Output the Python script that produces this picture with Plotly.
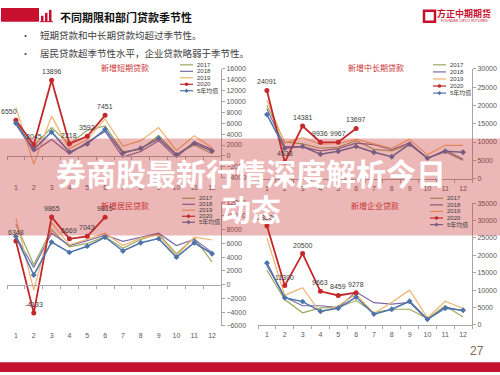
import plotly.graph_objects as go

W, H = 500, 375
def px(x): return x / W
def py(y): return 1 - y / H

# ---------------- data ----------------
months = list(range(1, 13))
month_labels = [str(m) for m in months]
series_names = ["2017", "2018", "2019", "2020", "5年均值"]

short_2017 = [6300, 1900, 5200, 2200, 4700, 5500, 800, 1200, 3800, 300, 2000, 400]
short_2018 = [5800, 800, 3000, 400, 2500, 4500, -200, 800, 2800, -300, 2600, 1200]
short_2019 = [8900, -1500, 7300, 1300, 3000, 6800, 1800, 2800, 5200, 1000, 3700, 1500]
short_2020 = [6550, 2045, 13896, 2218, 3592, 7451]
short_avg = [6000, 1200, 4400, 700, 2200, 4900, 500, 1400, 3200, 200, 2300, 900]

ml_2017 = [20000, 10000, 9500, 8300, 8600, 10400, 8000, 7600, 9400, 5700, 7300, 5000]
ml_2018 = [19000, 8800, 8700, 7600, 8200, 9700, 9300, 7900, 9800, 5500, 7800, 5300]
ml_2019 = [21500, 9700, 11200, 9400, 9600, 10800, 9500, 8300, 10800, 6500, 9100, 9100]
ml_2020 = [24091, 4538, 14381, 9936, 9967, 13697]
ml_avg = [17500, 8300, 8800, 6700, 7500, 8800, 7200, 6000, 9400, 5600, 7500, 7200]

hh_2017 = [8800, 2900, 8000, 5500, 6000, 7000, 5300, 6600, 7400, 4500, 6800, 3300]
hh_2018 = [7000, 2500, 7500, 5700, 6400, 7200, 6300, 6900, 7500, 5700, 6600, 4700]
hh_2019 = [9700, -800, 9000, 5800, 6600, 7500, 5700, 6800, 7200, 4200, 6900, 6500]
hh_2020 = [6348, -4133, 9865, 6669, 7043, 9815]
hh_avg = [7000, 1400, 6200, 4700, 5600, 6900, 4900, 6100, 6700, 4000, 6100, 4500]

co_2017 = [15700, 7300, 3500, 4900, 5000, 7000, 3500, 4500, 4500, 1800, 5500, 2300]
co_2018 = [17000, 8000, 5500, 5500, 5000, 9500, 6400, 6000, 6500, 1500, 5200, 4000]
co_2019 = [25000, 8500, 10700, 3500, 5500, 8800, 3300, 6500, 10000, 2000, 6800, 4700]
co_2020 = [28500, 11300, 20500, 9663, 8459, 9278]
co_avg = [17800, 7800, 6700, 3900, 4800, 8000, 3100, 4500, 6800, 1600, 4800, 4200]

chart_titles = ["新增短期贷款", "新增中长期贷款", "新增居民贷款", "新增企业贷款"]
heading = "不同期限和部门贷款季节性"
bullets = ["短期贷款和中长期贷款均超过季节性。", "居民贷款超季节性水平，企业贷款略弱于季节性。"]
banner_lines = ["券商股最新行情深度解析今日", "动态"]

# ---------------- styles ----------------
colors = {"2017": "#9aa85c", "2018": "#7b6aa5", "2019": "#efb36e",
          "2020": "#c3282b", "5年均值": "#4d74a9"}
widths = {"2017": 1.2, "2018": 1.2, "2019": 1.2, "2020": 1.8, "5年均值": 1.5}
AX = "#a6a6a6"
TICKF = dict(family="Liberation Sans, Arial, sans-serif", size=7, color="#595959")
LABF = dict(family="Liberation Sans, Arial, sans-serif", size=7, color="#404040")
CJK = "Noto Sans CJK SC, sans-serif"

charts = [
    dict(data=[short_2017, short_2018, short_2019, short_2020, short_avg],
         xd=(7, 221), yd=(66, 177), yr=(-4000, 16000), dt=2000,
         tpos=(125, 65), leg=(180, 62, 6.6), first_left=True, zero=True),
    dict(data=[ml_2017, ml_2018, ml_2019, ml_2020, ml_avg],
         xd=(258, 472), yd=(66, 178), yr=(0, 30000), dt=5000,
         tpos=(376, 65), leg=(433, 62, 7.2), first_left=False, zero=False),
    dict(data=[hh_2017, hh_2018, hh_2019, hh_2020, hh_avg],
         xd=(7, 221), yd=(202, 328), yr=(-6000, 12000), dt=2000,
         tpos=(125, 205), leg=(182, 198, 6.1), first_left=False, zero=True),
    dict(data=[co_2017, co_2018, co_2019, co_2020, co_avg],
         xd=(258, 472), yd=(203, 327), yr=(0, 35000), dt=5000,
         tpos=(375, 205), leg=(430, 198, 6.7), first_left=False, zero=False),
]

fig = go.Figure()
layout_axes = {}
shapes = []
annotations = []
extra_ax = 5

for i, c in enumerate(charts):
    k = "" if i == 0 else str(i + 1)
    xa, ya = "x" + k, "y" + k
    for name, vals in zip(series_names, c["data"]):
        xs = months[:len(vals)]
        if name == "2020":
            fig.add_trace(go.Scatter(
                x=xs, y=vals, xaxis=xa, yaxis=ya, mode="lines+markers",
                line=dict(color=colors[name], width=widths[name]),
                marker=dict(color=colors[name], size=5, symbol="circle"),
                showlegend=False, cliponaxis=False))
            for j, (mx, v) in enumerate(zip(xs, vals)):
                left = (j == 0 and c["first_left"])
                annotations.append(dict(
                    x=mx, y=v, xref=xa, yref=ya, text=str(v), showarrow=False,
                    xanchor="center", yanchor="bottom",
                    xshift=-7 if left else 0, yshift=3, font=LABF))
        elif name == "5年均值":
            fig.add_trace(go.Scatter(
                x=xs, y=vals, xaxis=xa, yaxis=ya, mode="lines+markers",
                line=dict(color=colors[name], width=widths[name]),
                marker=dict(color=colors[name], size=4.5, symbol="diamond"),
                showlegend=False))
        else:
            fig.add_trace(go.Scatter(
                x=xs, y=vals, xaxis=xa, yaxis=ya, mode="lines",
                line=dict(color=colors[name], width=widths[name]),
                showlegend=False))

    xdom = [px(c["xd"][0]), px(c["xd"][1])]
    ydom = [py(c["yd"][1]), py(c["yd"][0])]
    layout_axes["xaxis" + k] = dict(
        domain=xdom, anchor=ya, range=[0.5, 12.5], tickmode="array",
        tickvals=months, ticktext=month_labels, showgrid=False, zeroline=False,
        showline=not c["zero"], linecolor=AX, linewidth=1,
        ticks="outside", ticklen=3, tickcolor="rgba(0,0,0,0)", tickfont=TICKF,
        minor=dict(tickmode="array", tickvals=[m + 0.5 for m in [0] + months],
                   ticks="" if c["zero"] else "outside", ticklen=3, tickcolor=AX),
        fixedrange=True)
    layout_axes["yaxis" + k] = dict(
        domain=ydom, anchor=xa, side="right", range=list(c["yr"]), dtick=c["dt"],
        tickformat="d",
        showgrid=False, zeroline=False, showline=True, linecolor=AX, linewidth=1,
        ticks="outside", ticklen=3, tickcolor=AX, tickfont=TICKF, fixedrange=True)
    if c["zero"]:
        zk = str(extra_ax)
        extra_ax += 1
        y0, y1 = c["yr"]
        pos0 = ydom[0] + (0 - y0) / (y1 - y0) * (ydom[1] - ydom[0])
        layout_axes["xaxis" + zk] = dict(
            overlaying=xa, anchor="free", position=pos0, range=[0.5, 12.5],
            showgrid=False, zeroline=False, showline=True, linecolor=AX, linewidth=1,
            showticklabels=False, ticks="",
            minor=dict(tickmode="array", tickvals=[m + 0.5 for m in [0] + months],
                       ticks="outside", ticklen=3, tickcolor=AX),
            fixedrange=True)
        fig.add_trace(go.Scatter(x=[None], y=[None], xaxis="x" + zk, yaxis=ya,
                                 showlegend=False, hoverinfo="skip"))

    # chart title
    tx, ty = c["tpos"]
    annotations.append(dict(x=px(tx), y=py(ty), xref="paper", yref="paper",
                            text=chart_titles[i], showarrow=False,
                            font=dict(family=CJK, size=8, color="#c8322f"),
                            xanchor="center", yanchor="middle"))
    # legend drawn as key shapes + text
    lx, ly, dy = c["leg"]
    for j, name in enumerate(series_names):
        yy = ly + j * dy
        shapes.append(dict(type="line", xref="paper", yref="paper",
                           x0=px(lx), x1=px(lx + 13), y0=py(yy), y1=py(yy),
                           line=dict(color=colors[name], width=1.2)))
        cx = lx + 6.5
        if name == "2020":
            shapes.append(dict(type="circle", xref="paper", yref="paper",
                               x0=px(cx - 1.8), x1=px(cx + 1.8), y0=py(yy + 1.8), y1=py(yy - 1.8),
                               fillcolor=colors[name], line=dict(width=0)))
        elif name == "5年均值":
            shapes.append(dict(type="path", xref="paper", yref="paper",
                               path=f"M {px(cx)} {py(yy-2.2)} L {px(cx+2)} {py(yy)} L {px(cx)} {py(yy+2.2)} L {px(cx-2)} {py(yy)} Z",
                               fillcolor=colors[name], line=dict(width=0)))
        annotations.append(dict(x=px(lx + 15), y=py(yy), xref="paper", yref="paper",
                                text=name, showarrow=False, xanchor="left", yanchor="middle",
                                font=dict(family="Liberation Sans, " + CJK, size=6, color="#404040")))

# ---------------- header ----------------
RED = "#c8102e"
shapes.append(dict(type="rect", xref="paper", yref="paper", x0=px(1), x1=px(39),
                   y0=py(18), y1=py(4), fillcolor=RED, line=dict(width=0)))
for bx, btop in [(41, 12), (45, 9), (49, 6)]:
    shapes.append(dict(type="rect", xref="paper", yref="paper", x0=px(bx), x1=px(bx + 2.5),
                       y0=py(18), y1=py(btop), fillcolor=RED, line=dict(width=0)))
shapes.append(dict(type="line", xref="paper", yref="paper", x0=px(40), x1=px(53),
                   y0=py(18), y1=py(18), line=dict(color=RED, width=1)))
annotations.append(dict(x=px(58), y=py(13), xref="paper", yref="paper", text="<b>" + heading + "</b>",
                        showarrow=False, xanchor="left", yanchor="middle",
                        font=dict(family=CJK, size=11, color="#111111")))
for b, yb in zip(bullets, [32, 50]):
    annotations.append(dict(x=px(25), y=py(yb), xref="paper", yref="paper", text="•",
                            showarrow=False, xanchor="center", yanchor="middle",
                            font=dict(family=CJK, size=9, color="#404040")))
    annotations.append(dict(x=px(38), y=py(yb), xref="paper", yref="paper", text=b,
                            showarrow=False, xanchor="left", yanchor="middle",
                            font=dict(family=CJK, size=9.5, color="#404040")))

# logo
shapes.append(dict(type="rect", xref="paper", yref="paper", x0=px(424), x1=px(435),
                   y0=py(18), y1=py(7), fillcolor="white", line=dict(color=RED, width=2.5)))
annotations.append(dict(x=px(464), y=py(10), xref="paper", yref="paper", text="<b>方正中期期货</b>",
                        showarrow=False, xanchor="center", yanchor="middle",
                        font=dict(family=CJK, size=9, color=RED)))
annotations.append(dict(x=px(464), y=py(17), xref="paper", yref="paper", text="FOUNDER CIFCO FUTURES",
                        showarrow=False, xanchor="center", yanchor="middle",
                        font=dict(family="Liberation Sans, sans-serif", size=3.5, color=RED)))

# page number and footer bar
annotations.append(dict(x=px(477), y=py(354), xref="paper", yref="paper", text="27",
                        showarrow=False, xanchor="center", yanchor="middle",
                        font=dict(family="Liberation Sans, sans-serif", size=12, color="#7a6a58")))
shapes.append(dict(type="rect", xref="paper", yref="paper", x0=0, x1=1,
                   y0=0, y1=py(365), fillcolor="#c3132d", line=dict(width=0)))

# ---------------- banner overlay ----------------
shapes.append(dict(type="rect", xref="paper", yref="paper", x0=0, x1=1,
                   y0=py(236), y1=py(137), fillcolor="rgba(200,50,50,0.35)",
                   line=dict(width=0), layer="above"))
for t, yb in zip(banner_lines, [171, 208]):
    annotations.append(dict(x=px(251), y=py(yb), xref="paper", yref="paper", text="<b>" + t + "</b>",
                            showarrow=False, xanchor="center", yanchor="middle",
                            font=dict(family=CJK, size=30, color="white")))

fig.update_layout(
    width=W, height=H, margin=dict(l=0, r=0, t=0, b=0),
    paper_bgcolor="white", plot_bgcolor="rgba(0,0,0,0)",
    showlegend=False, shapes=shapes, annotations=annotations, **layout_axes)

fig.write_html("out.html", config={"displayModeBar": False},
               post_script="document.body.style.margin='0px';document.body.style.overflow='hidden';")
